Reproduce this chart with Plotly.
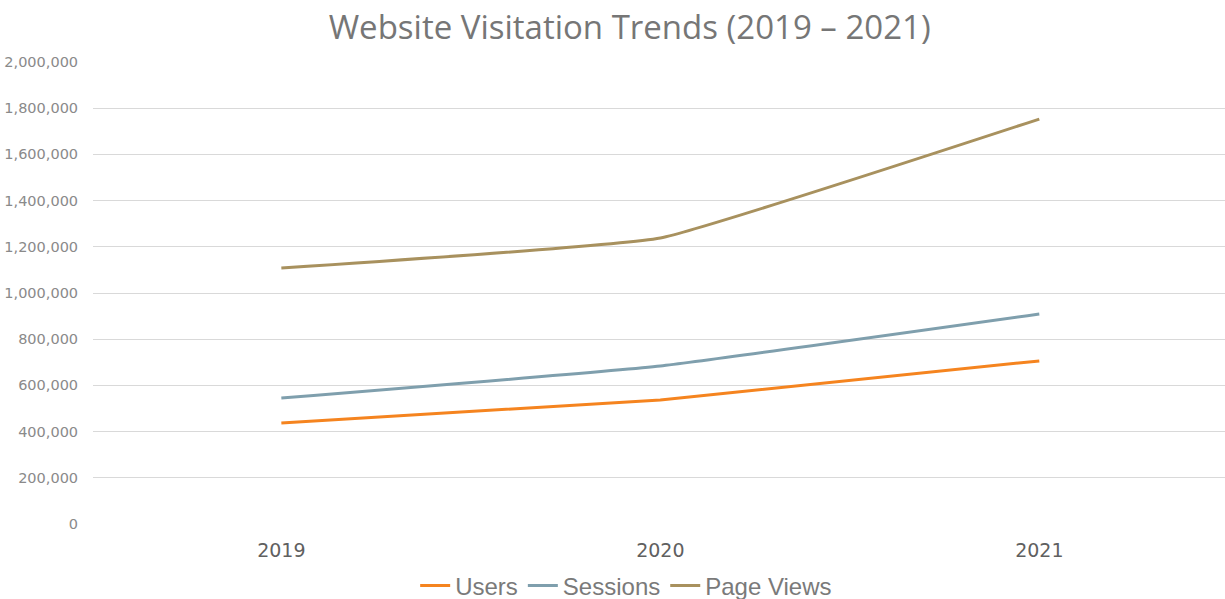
import plotly.graph_objects as go

years = ["2019", "2020", "2021"]
users = [437000, 537000, 706000]
sessions = [545000, 684000, 909000]
page_views = [1108000, 1238000, 1753000]
y_ticks = [0, 200000, 400000, 600000, 800000, 1000000, 1200000, 1400000, 1600000, 1800000, 2000000]

fig = go.Figure()
series = [("Users", users, "#F5841F"), ("Sessions", sessions, "#7F9FAD"), ("Page Views", page_views, "#A8915E")]
for name, vals, col in series:
    fig.add_trace(go.Scatter(x=years, y=vals, name=name, mode="lines",
                             line=dict(color=col, width=3, shape="spline", smoothing=0.3)))

fig.update_layout(
    width=1225, height=599,
    margin=dict(l=93, r=0, t=62, b=75),
    paper_bgcolor="white", plot_bgcolor="white",
    title=dict(text="Website Visitation Trends (2019 – 2021)", x=0.514, xanchor="center",
               y=0.955, yanchor="middle",
               font=dict(family="Open Sans, sans-serif", size=33, color="#767676")),
    showlegend=True,
    legend=dict(orientation="h", x=0.471, xanchor="center", y=0.022, yanchor="middle",
                yref="container",
                font=dict(family="Liberation Sans, sans-serif", size=24, color="#7a7a7a"),
                itemwidth=30, tracegroupgap=0, itemclick=False),
    xaxis=dict(range=[-0.497, 2.49], showgrid=False, zeroline=False, showline=False,
               tickfont=dict(family="DejaVu Sans, sans-serif", size=19, color="#606060"),
               ticks="outside", ticklen=9, tickcolor="white"),
    yaxis=dict(range=[0, 2000000], tickvals=y_ticks, tickformat=",d",
               showgrid=True, gridcolor="#d9d9d9", gridwidth=1, zeroline=False,
               tickfont=dict(family="DejaVu Sans, sans-serif", size=14.5, color="#8a8a8a"),
               ticks="outside", ticklen=11, tickcolor="white"),
)

fig.write_html("out.html", config={"displayModeBar": False},
               post_script="document.body.style.margin='0';document.body.style.overflow='hidden';")
